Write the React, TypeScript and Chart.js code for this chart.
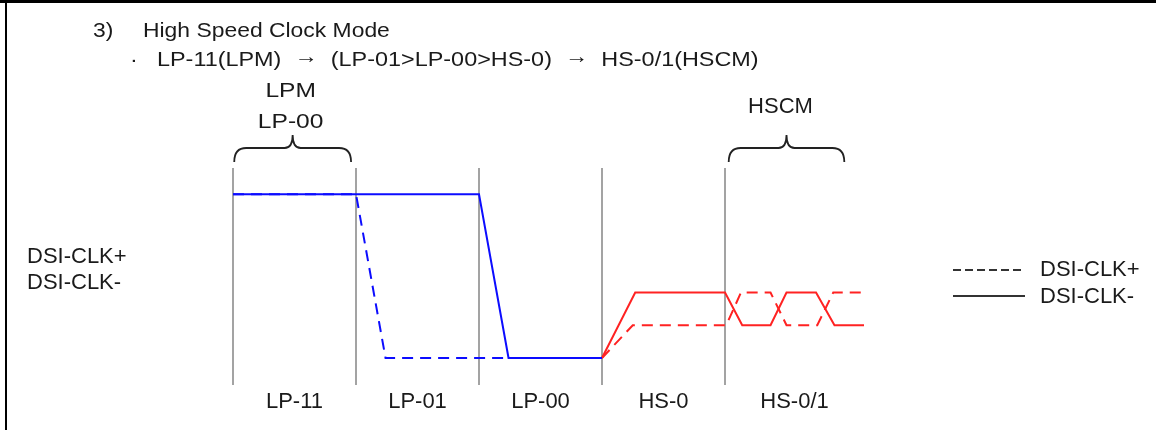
import React, { useEffect, useRef } from 'react';
import { Chart, registerables } from 'chart.js';

Chart.register(...registerables);

// ---- data ----
const segmentLabels = ['LP-11', 'LP-01', 'LP-00', 'HS-0', 'HS-0/1'];
const segmentBounds = [0, 1, 2, 3, 4, 5.13];

// DSI-CLK+ (dashed) and DSI-CLK- (solid), low-power part (blue)
const clkPlusLpX = [0, 1, 1.24, 3];
const clkPlusLpY = [1, 1, 0, 0];
const clkMinusLpX = [0, 2, 2.24, 3];
const clkMinusLpY = [1, 1, 0, 0];

// high-speed part (red)
const clkPlusHsX = [3, 3.25, 4.01, 4.13, 4.37, 4.5, 4.75, 4.88, 5.13];
const clkPlusHsY = [0, 0.2, 0.2, 0.4, 0.4, 0.2, 0.2, 0.4, 0.4];
const clkMinusHsX = [3, 3.27, 4, 4.14, 4.37, 4.5, 4.74, 4.89, 5.13];
const clkMinusHsY = [0, 0.4, 0.4, 0.2, 0.2, 0.4, 0.4, 0.2, 0.2];

const braceStarts = [0.01, 4.03];
const braceEnds = [0.96, 4.97];
const braceLabels = [['LPM', 'LP-00'], ['HSCM']];

const titleNumber = '3)';
const titleText = 'High Speed Clock Mode';
const bulletText = '·';
const subtitleParts = ['LP-11(LPM)', '→', '(LP-01>LP-00>HS-0)', '→', 'HS-0/1(HSCM)'];
const sideLabels = ['DSI-CLK+', 'DSI-CLK-'];
const legendLabels = ['DSI-CLK+', 'DSI-CLK-'];

const FONT = '"Liberation Sans", Arial, sans-serif';
const BLUE = '#0c0cff';
const RED = '#ff2222';

const toPoints = (xs: number[], ys: number[]) => xs.map((x, i) => ({ x, y: ys[i] }));

function drawText(ctx: CanvasRenderingContext2D, text: string, x: number, y: number, sx: number) {
  ctx.save();
  ctx.translate(x, y);
  ctx.scale(sx, 1);
  ctx.fillText(text, 0, 0);
  ctx.restore();
}

const annotationPlugin = {
  id: 'annotations',
  afterDraw(chart: any) {
    const ctx: CanvasRenderingContext2D = chart.ctx;
    const xs = chart.scales.x;
    ctx.save();
    // frame lines
    ctx.fillStyle = '#000';
    ctx.fillRect(0, 0, chart.width, 3);
    ctx.fillRect(5, 0, 2, chart.height);

    ctx.fillStyle = '#1a1a1a';
    ctx.textBaseline = 'alphabetic';
    ctx.textAlign = 'left';
    // title
    ctx.font = `21px ${FONT}`;
    drawText(ctx, titleNumber, 93, 37, 1.09);
    drawText(ctx, titleText, 143, 37, 1.09);
    // subtitle
    const ssx = 1.17;
    ctx.font = `20px ${FONT}`;
    drawText(ctx, bulletText, 130, 66, ssx);
    const gap = ctx.measureText('  ').width * ssx;
    let cx = 157;
    subtitleParts.forEach((p) => {
      const w = ctx.measureText(p).width * ssx;
      drawText(ctx, p, cx, p === '→' ? 63 : 66, ssx);
      cx += w + gap;
    });

    // braces
    ctx.strokeStyle = '#222';
    ctx.lineWidth = 1.8;
    braceStarts.forEach((s, i) => {
      const x1 = xs.getPixelForValue(s);
      const x2 = xs.getPixelForValue(braceEnds[i]);
      const mid = (x1 + x2) / 2;
      const yEnd = 162, yMid = 148, yTip = 135;
      ctx.beginPath();
      ctx.moveTo(x1, yEnd);
      ctx.quadraticCurveTo(x1, yMid, x1 + 12, yMid);
      ctx.lineTo(mid - 8, yMid);
      ctx.quadraticCurveTo(mid, yMid, mid, yTip);
      ctx.quadraticCurveTo(mid, yMid, mid + 8, yMid);
      ctx.lineTo(x2 - 12, yMid);
      ctx.quadraticCurveTo(x2, yMid, x2, yEnd);
      ctx.stroke();
      ctx.textAlign = 'center';
      const labels = braceLabels[i];
      if (labels.length === 2) {
        ctx.font = `21px ${FONT}`;
        drawText(ctx, labels[0], mid - 2, 97, 1.17);
        drawText(ctx, labels[1], mid - 2, 128, 1.17);
      } else {
        ctx.font = `22px ${FONT}`;
        drawText(ctx, labels[0], mid - 6, 113, 1);
      }
    });

    // side labels
    ctx.font = `22px ${FONT}`;
    ctx.textAlign = 'left';
    ctx.fillText(sideLabels[0], 27, 263);
    ctx.fillText(sideLabels[1], 27, 289);

    // legend
    ctx.strokeStyle = '#333';
    ctx.lineWidth = 2;
    ctx.setLineDash([8, 4]);
    ctx.beginPath();
    ctx.moveTo(953, 270);
    ctx.lineTo(1025, 270);
    ctx.stroke();
    ctx.setLineDash([]);
    ctx.beginPath();
    ctx.moveTo(953, 296);
    ctx.lineTo(1025, 296);
    ctx.stroke();
    ctx.fillText(legendLabels[0], 1040, 276);
    ctx.fillText(legendLabels[1], 1040, 303);

    // segment labels
    ctx.textAlign = 'center';
    segmentLabels.forEach((lab, i) => {
      const c = (xs.getPixelForValue(segmentBounds[i]) + xs.getPixelForValue(segmentBounds[i + 1])) / 2;
      ctx.fillText(lab, c, 408);
    });
    ctx.restore();
  },
};

export default function App() {
  const ref = useRef<HTMLCanvasElement>(null);
  useEffect(() => {
    if (!ref.current) return;
    const lineBase = {
      tension: 0,
      pointRadius: 0,
      borderWidth: 2,
      clip: false as any,
      fill: false,
      borderJoinStyle: 'miter' as const,
    };
    const chart = new Chart(ref.current, {
      type: 'line',
      data: {
        datasets: [
          { ...lineBase, label: 'DSI-CLK- LP', data: toPoints(clkMinusLpX, clkMinusLpY), borderColor: BLUE, order: 1 },
          { ...lineBase, label: 'DSI-CLK+ LP', data: toPoints(clkPlusLpX, clkPlusLpY), borderColor: BLUE, borderDash: [11, 7], order: 2 },
          { ...lineBase, label: 'DSI-CLK- HS', data: toPoints(clkMinusHsX, clkMinusHsY), borderColor: RED, order: 1 },
          { ...lineBase, label: 'DSI-CLK+ HS', data: toPoints(clkPlusHsX, clkPlusHsY), borderColor: RED, borderDash: [11, 7], order: 2 },
        ],
      },
      options: {
        responsive: false,
        animation: false,
        devicePixelRatio: 1,
        layout: { padding: { left: 233, right: 292, top: 168, bottom: 45 } },
        plugins: { legend: { display: false }, tooltip: { enabled: false }, title: { display: false } },
        scales: {
          x: {
            type: 'linear',
            min: segmentBounds[0],
            max: segmentBounds[segmentBounds.length - 1],
            afterBuildTicks: (axis: any) => {
              axis.ticks = segmentBounds.slice(0, 5).map((v) => ({ value: v }));
            },
            ticks: { display: false },
            grid: { color: '#a3a3a3', lineWidth: 2, drawTicks: false },
            border: { display: false },
          },
          y: {
            type: 'linear',
            display: false,
            min: -0.165,
            max: 1.16,
          },
        },
      },
      plugins: [annotationPlugin],
    });
    return () => chart.destroy();
  }, []);
  return (
    <div style={{ position: 'fixed', left: 0, top: 0, width: 1156, height: 430, background: '#fff' }}>
      <canvas ref={ref} width={1156} height={430} />
    </div>
  );
}
